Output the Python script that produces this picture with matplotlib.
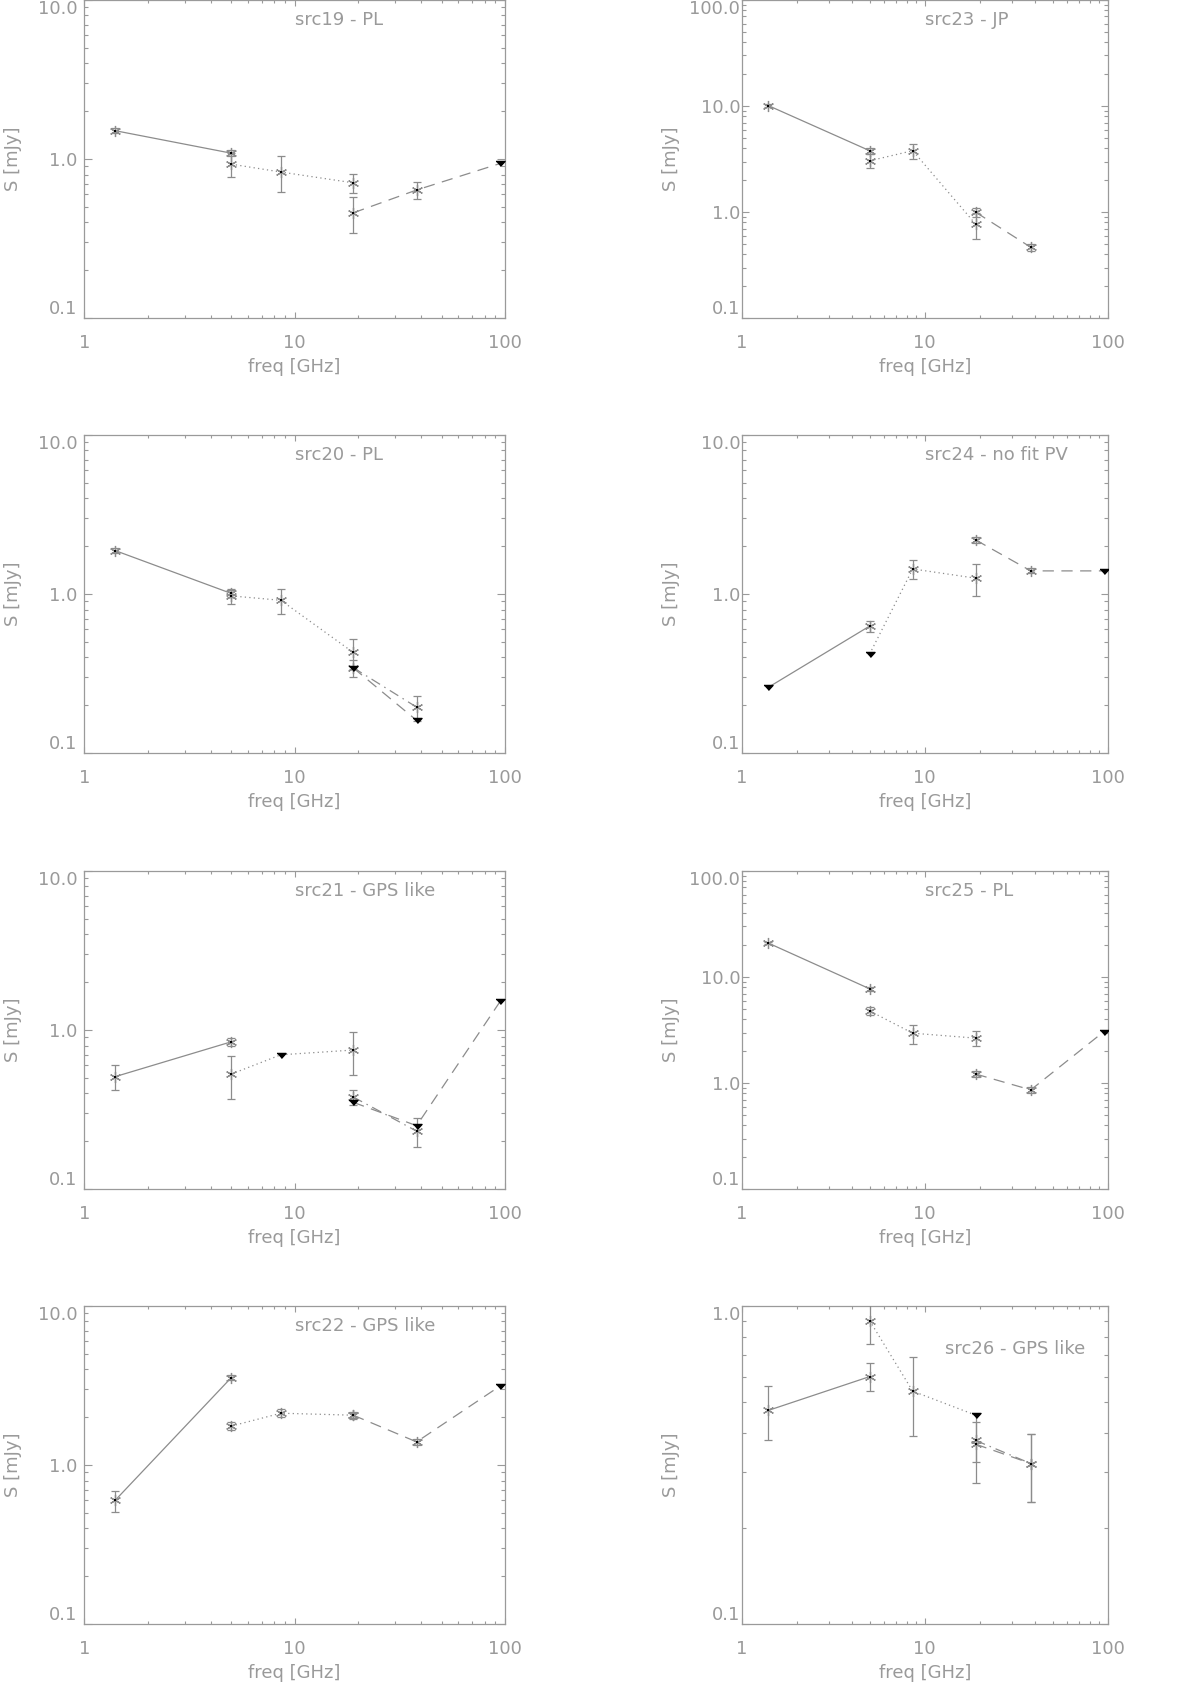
import matplotlib
matplotlib.use('Agg')
import matplotlib.pyplot as plt
from matplotlib.ticker import FixedLocator, FuncFormatter, NullFormatter, LogLocator

# ---------------- data: (freq [GHz], flux [mJy], error [mJy], upper-limit flag) ----------------
SRC19_SOLID = [(1.4, 1.51, 0.06, 0), (5.0, 1.09, 0.05, 0)]
SRC19_DOTTED = [(5.0, 0.93, 0.16, 0), (8.6, 0.83, 0.21, 0), (19.0, 0.71, 0.10, 0)]
SRC19_DASHED = [(19.0, 0.46, 0.115, 0), (38.0, 0.64, 0.08, 0), (95.0, 0.94, 0.0, 1)]

SRC20_SOLID = [(1.4, 1.88, 0.07, 0), (5.0, 1.01, 0.05, 0)]
SRC20_DOTTED = [(5.0, 0.975, 0.11, 0), (8.6, 0.915, 0.17, 0), (19.0, 0.43, 0.09, 0)]
SRC20_DASHDOT = [(19.0, 0.345, 0.043, 0), (38.0, 0.195, 0.035, 0)]
SRC20_DASHED = [(19.0, 0.344, 0.0, 1), (38.0, 0.161, 0.0, 1)]

SRC21_SOLID = [(1.4, 0.51, 0.09, 0), (5.0, 0.845, 0.05, 0)]
SRC21_DOTTED = [(5.0, 0.53, 0.16, 0), (8.6, 0.70, 0.0, 1), (19.0, 0.75, 0.23, 0)]
SRC21_DASHDOT = [(19.0, 0.38, 0.04, 0), (38.0, 0.232, 0.048, 0)]
SRC21_DASHED = [(19.0, 0.352, 0.0, 1), (38.0, 0.251, 0.0, 1), (95.0, 1.52, 0.0, 1)]

SRC22_SOLID = [(1.4, 0.60, 0.09, 0), (5.0, 3.55, 0.12, 0)]
SRC22_DOTTED = [(5.0, 1.76, 0.10, 0), (8.6, 2.12, 0.12, 0), (19.0, 2.06, 0.10, 0)]
SRC22_DASHED = [(19.0, 2.06, 0.08, 0), (38.0, 1.40, 0.07, 0), (95.0, 3.15, 0.0, 1)]

SRC23_SOLID = [(1.4, 10.1, 0.3, 0), (5.0, 3.8, 0.25, 0)]
SRC23_DOTTED = [(5.0, 3.05, 0.45, 0), (8.6, 3.8, 0.6, 0), (19.0, 0.77, 0.21, 0)]
SRC23_DASHED = [(19.0, 1.0, 0.09, 0), (38.0, 0.467, 0.037, 0)]

SRC24_SOLID = [(1.4, 0.26, 0.0, 1), (5.0, 0.63, 0.05, 0)]
SRC24_DOTTED = [(5.0, 0.42, 0.0, 1), (8.6, 1.44, 0.2, 0), (19.0, 1.26, 0.28, 0)]
SRC24_DASHED = [(19.0, 2.19, 0.08, 0), (38.0, 1.40, 0.05, 0), (95.0, 1.40, 0.0, 1)]

SRC25_SOLID = [(1.4, 20.9, 0.6, 0), (5.0, 7.76, 0.3, 0)]
SRC25_DOTTED = [(5.0, 4.8, 0.38, 0), (8.6, 2.96, 0.6, 0), (19.0, 2.66, 0.42, 0)]
SRC25_DASHED = [(19.0, 1.22, 0.08, 0), (38.0, 0.865, 0.06, 0), (95.0, 3.05, 0.0, 1)]

SRC26_SOLID = [(1.4, 0.47, 0.09, 0), (5.0, 0.60, 0.06, 0)]
SRC26_DOTTED = [(5.0, 0.90, 0.14, 0), (8.6, 0.54, 0.15, 0), (19.0, 0.454, 0.0, 1)]
SRC26_DASHDOT = [(19.0, 0.378, 0.055, 0), (38.0, 0.32, 0.077, 0)]
SRC26_DASHED = [(19.0, 0.368, 0.09, 0), (38.0, 0.32, 0.077, 0)]

TITLES = ['src19 - PL', 'src20 - PL', 'src21 - GPS like', 'src22 - GPS like',
          'src23 - JP', 'src24 - no fit PV', 'src25 - PL', 'src26 - GPS like']
YMAX = [10.0, 10.0, 10.0, 10.0, 100.0, 10.0, 100.0, 1.0]
XTICKS = [1, 10, 100]
YTICKS = [0.1, 1.0, 10.0, 100.0]
XLABEL = 'freq [GHz]'
YLABEL = 'S [mJy]'

# ---------------- styles ----------------
AX = '#9a9a9a'
LINE = '#8c8c8c'
FS = 13
SOLID = '-'
DOTTED = (0, (1.0, 2.6))
DASHED = (0, (9, 6))
DASHDOT = (0, (8, 4, 1.2, 4))
TRI = [(-1.0, 0.45), (1.0, 0.45), (0.0, -0.65)]

SERIES = [
    [(SRC19_SOLID, SOLID), (SRC19_DOTTED, DOTTED), (SRC19_DASHED, DASHED)],
    [(SRC20_SOLID, SOLID), (SRC20_DOTTED, DOTTED), (SRC20_DASHDOT, DASHDOT), (SRC20_DASHED, DASHED)],
    [(SRC21_SOLID, SOLID), (SRC21_DOTTED, DOTTED), (SRC21_DASHDOT, DASHDOT), (SRC21_DASHED, DASHED)],
    [(SRC22_SOLID, SOLID), (SRC22_DOTTED, DOTTED), (SRC22_DASHED, DASHED)],
    [(SRC23_SOLID, SOLID), (SRC23_DOTTED, DOTTED), (SRC23_DASHED, DASHED)],
    [(SRC24_SOLID, SOLID), (SRC24_DOTTED, DOTTED), (SRC24_DASHED, DASHED)],
    [(SRC25_SOLID, SOLID), (SRC25_DOTTED, DOTTED), (SRC25_DASHED, DASHED)],
    [(SRC26_SOLID, SOLID), (SRC26_DOTTED, DOTTED), (SRC26_DASHDOT, DASHDOT), (SRC26_DASHED, DASHED)],
]

W, H = 1200.0, 1684.0
COLS = [(84.3, 420.7), (741.7, 366.0)]
TOPS = [0.0, 435.0, 871.0, 1306.0]
PH = 318.3

plt.rcParams['font.family'] = ['DejaVu Sans']

fig = plt.figure(figsize=(12, 16.84), dpi=100)


def draw(ax, pts, ls):
    f = [p[0] for p in pts]
    s = [p[1] for p in pts]
    ax.plot(f, s, ls=ls, color=LINE, lw=0.9, zorder=2)
    for fr, fl, er, ul in pts:
        if ul:
            ax.plot([fr], [fl], marker=TRI, color='black', ms=6.5, ls='none', zorder=5)
        else:
            ax.errorbar([fr], [fl], yerr=[er], fmt='none', ecolor=LINE, elinewidth=0.9,
                        capsize=3, capthick=0.9, zorder=3)
            ax.plot([fr], [fl], marker=(6, 2, 0), color=LINE, ms=8, mew=0.9, ls='none', zorder=4)
            ax.plot([fr], [fl], marker='s', color='black', ms=1.6, mew=0, ls='none', zorder=6)


axes = []
for i in range(8):
    col = i // 4
    row = i % 4
    x0, w = COLS[col]
    top = TOPS[row]
    ax = fig.add_axes([x0 / W, 1 - (top + PH) / H, w / W, PH / H])
    axes.append(ax)
    ax.set_xscale('log')
    ax.set_yscale('log')
    ax.set_xlim(1, 100)
    ax.set_ylim(0.1, YMAX[i])

    for pts, ls in SERIES[i]:
        draw(ax, pts, ls)

    ax.xaxis.set_major_locator(FixedLocator(XTICKS))
    ax.xaxis.set_major_formatter(FuncFormatter(lambda v, p: f'{v:g}'))
    ax.xaxis.set_minor_locator(LogLocator(base=10, subs=range(2, 10)))
    ax.xaxis.set_minor_formatter(NullFormatter())
    ax.yaxis.set_major_locator(FixedLocator([t for t in YTICKS if t <= YMAX[i] * 1.001]))
    ax.yaxis.set_major_formatter(FuncFormatter(lambda v, p: f'{v:.1f}'))
    ax.yaxis.set_minor_locator(LogLocator(base=10, subs=range(2, 10)))
    ax.yaxis.set_minor_formatter(NullFormatter())

    for sp in ax.spines.values():
        sp.set_color(AX)
        sp.set_linewidth(0.9)
    ax.tick_params(which='both', direction='in', top=True, right=True, color=AX,
                   labelcolor=AX, labelsize=FS, width=0.8)
    ax.tick_params(axis='x', which='major', length=4.6, pad=11)
    ax.tick_params(axis='x', which='minor', length=2.3)
    ylen = 0.02 * w * 72 / 100
    ax.tick_params(axis='y', which='major', length=ylen, pad=5 if col == 0 else 1)
    ax.tick_params(axis='y', which='minor', length=ylen / 2)

    ax.set_xlabel(XLABEL, fontsize=FS, color=AX)
    ax.xaxis.set_label_coords(0.5, -49 / PH)
    ax.xaxis.label.set_verticalalignment('center')
    ax.set_ylabel(YLABEL, fontsize=FS, color=AX)
    ax.yaxis.set_label_coords(-71 / w, 0.5)
    ax.yaxis.label.set_verticalalignment('center')

    if i == 7:
        tx, ty = 12.9, 1 - 43 / PH
    else:
        tx, ty = 10.0, 1 - 20 / PH
    ax.text(tx, ty, TITLES[i], transform=ax.get_xaxis_transform(), ha='left', va='center',
            fontsize=FS, color=AX)

fig.canvas.draw()
for ax in axes:
    labs = ax.yaxis.get_majorticklabels()
    if labs:
        labs[0].set_verticalalignment('bottom')
        labs[-1].set_verticalalignment('top')

fig.savefig('out.png', dpi=100)
